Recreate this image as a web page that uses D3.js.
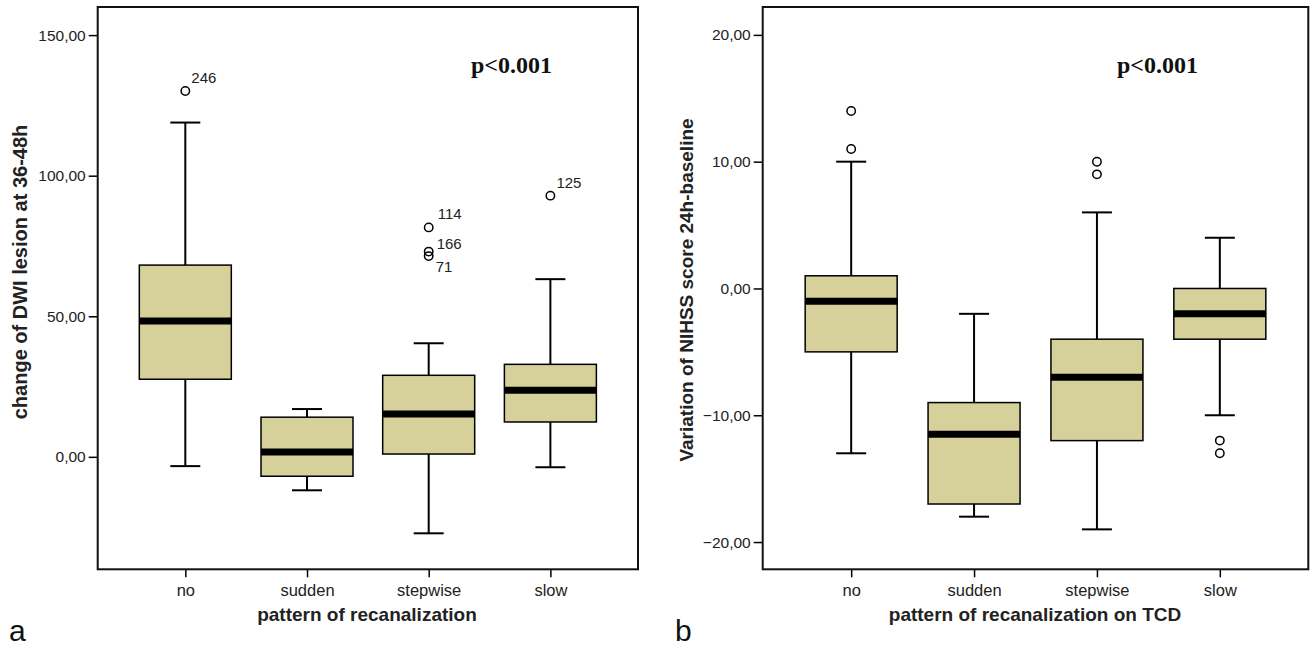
<!DOCTYPE html>
<html><head><meta charset="utf-8">
<script src="https://cdn.jsdelivr.net/npm/d3@7"></script>
<style>body{margin:0;background:#fff}svg{display:block}</style>
</head><body>
<svg id="c" width="1312" height="648"></svg>
<script>
const categories = ["no", "sudden", "stepwise", "slow"];

// Panel a: change of DWI lesion
const dwiLow    = [-3.3, -11.9, -27.2, -3.7];
const dwiQ1     = [27.6, -6.9, 1.0, 12.4];
const dwiMedian = [48.3, 1.7, 15.2, 23.7];
const dwiQ3     = [68.2, 14.1, 29.0, 32.9];
const dwiHigh   = [118.9, 17.0, 40.4, 63.2];
const dwiOutCat = ["no", "stepwise", "stepwise", "stepwise", "slow"];
const dwiOutVal = [130.1, 81.6, 73.0, 71.4, 92.9];
const dwiOutLab = ["246", "114", "166", "71", "125"];
const dwiTicks  = [0, 50, 100, 150];

// Panel b: variation of NIHSS
const nihLow    = [-13, -18, -19, -10];
const nihQ1     = [-5, -17, -12, -4];
const nihMedian = [-1, -11.5, -7, -2];
const nihQ3     = [1, -9, -4, 0];
const nihHigh   = [10, -2, 6, 4];
const nihOutCat = ["no", "no", "stepwise", "stepwise", "slow", "slow"];
const nihOutVal = [14, 11, 10, 9, -12, -13];
const nihOutLab = ["", "", "", "", "", ""];
const nihTicks  = [-20, -10, 0, 10, 20];

// label offsets (layout only)
const labOffset = {"246":[6,-8], "114":[9,-8], "166":[8,-3], "71":[7,16], "125":[6,-8]};

const svg = d3.select("#c");
const fmt = v => d3.format(".2f")(v).replace(".", ",");
const FILL = "#d6d09a";
const SANS = "Arial, 'Liberation Sans', sans-serif";

function panel(o) {
  const g = svg.append("g");
  const x = d3.scalePoint().domain(categories).range([o.x0, o.x1]).padding(0.72);
  const y = d3.scaleLinear().domain(o.domain).range([o.yb, o.yt]);

  // axes
  const ya = d3.axisLeft(y).tickValues(o.ticks).tickFormat(fmt).tickSize(9).tickPadding(3);
  const yg = g.append("g").attr("transform", `translate(${o.x0},0)`).call(ya);
  yg.select(".domain").remove();
  yg.selectAll("line").attr("stroke", "#000").attr("stroke-width", 1.5);
  yg.selectAll("text").attr("font-family", SANS).attr("font-size", 15.5).attr("fill", "#222");

  const xa = d3.axisBottom(x).tickSize(8).tickPadding(7);
  const xg = g.append("g").attr("transform", `translate(0,${o.yb})`).call(xa);
  xg.select(".domain").remove();
  xg.selectAll("line").attr("stroke", "#000").attr("stroke-width", 1.5);
  xg.selectAll("text").attr("font-family", SANS).attr("font-size", 16.5).attr("fill", "#222");

  // boxes
  const bw = 92, cw = 30;
  categories.forEach((c, i) => {
    const cx = x(c);
    g.append("line").attr("x1", cx).attr("x2", cx).attr("y1", y(o.high[i])).attr("y2", y(o.q3[i])).attr("stroke", "#000").attr("stroke-width", 2);
    g.append("line").attr("x1", cx).attr("x2", cx).attr("y1", y(o.q1[i])).attr("y2", y(o.low[i])).attr("stroke", "#000").attr("stroke-width", 2);
    g.append("line").attr("x1", cx - cw/2).attr("x2", cx + cw/2).attr("y1", y(o.high[i])).attr("y2", y(o.high[i])).attr("stroke", "#000").attr("stroke-width", 2);
    g.append("line").attr("x1", cx - cw/2).attr("x2", cx + cw/2).attr("y1", y(o.low[i])).attr("y2", y(o.low[i])).attr("stroke", "#000").attr("stroke-width", 2);
    g.append("rect").attr("x", cx - bw/2).attr("width", bw).attr("y", y(o.q3[i])).attr("height", y(o.q1[i]) - y(o.q3[i]))
      .attr("fill", FILL).attr("stroke", "#000").attr("stroke-width", 1.5);
    g.append("line").attr("x1", cx - bw/2).attr("x2", cx + bw/2).attr("y1", y(o.med[i])).attr("y2", y(o.med[i])).attr("stroke", "#000").attr("stroke-width", 7);
  });

  // outliers
  o.outCat.forEach((c, i) => {
    const cx = x(c), cy = y(o.outVal[i]);
    g.append("circle").attr("cx", cx).attr("cy", cy).attr("r", 4.2).attr("fill", "none").attr("stroke", "#000").attr("stroke-width", 1.5);
    const lab = o.outLab[i];
    if (lab) {
      const off = labOffset[lab];
      g.append("text").attr("x", cx + off[0]).attr("y", cy + off[1]).text(lab)
        .attr("font-family", SANS).attr("font-size", 15).attr("fill", "#222");
    }
  });

  // frame
  g.append("rect").attr("x", o.x0).attr("y", o.yt).attr("width", o.x1 - o.x0).attr("height", o.yb - o.yt)
    .attr("fill", "none").attr("stroke", "#111").attr("stroke-width", 2);

  // p-value
  g.append("text").attr("x", o.px).attr("y", 73).text("p<0.001")
    .attr("font-family", "'Liberation Serif', 'Times New Roman', serif").attr("font-weight", "bold").attr("font-size", 24).attr("fill", "#111");

  // titles
  g.append("text").attr("transform", `translate(${o.ytx},${o.yty}) rotate(-90)`).attr("text-anchor", "middle").text(o.ytitle)
    .attr("font-family", SANS).attr("font-weight", "bold").attr("font-size", o.ytsize).attr("fill", "#222");
  g.append("text").attr("x", o.xtx).attr("y", 621).attr("text-anchor", "middle").text(o.xtitle)
    .attr("font-family", SANS).attr("font-weight", "bold").attr("font-size", 19).attr("fill", "#222");
  g.append("text").attr("x", o.lx).attr("y", 641).text(o.letter)
    .attr("font-family", SANS).attr("font-size", 30).attr("fill", "#111");
}

panel({x0: 97.7, x1: 638, yt: 7, yb: 569.3, domain: [-40, 160], ticks: dwiTicks,
  low: dwiLow, q1: dwiQ1, med: dwiMedian, q3: dwiQ3, high: dwiHigh,
  outCat: dwiOutCat, outVal: dwiOutVal, outLab: dwiOutLab,
  px: 471, ytitle: "change of DWI lesion at 36-48h", ytsize: 20, ytx: 27, yty: 272,
  xtitle: "pattern of recanalization", xtx: 367, letter: "a", lx: 9});

panel({x0: 762.7, x1: 1308.3, yt: 7, yb: 569.3, domain: [-22.15, 22.2], ticks: nihTicks,
  low: nihLow, q1: nihQ1, med: nihMedian, q3: nihQ3, high: nihHigh,
  outCat: nihOutCat, outVal: nihOutVal, outLab: nihOutLab,
  px: 1117, ytitle: "Variation of NIHSS score 24h-baseline", ytsize: 19, ytx: 693, yty: 290,
  xtitle: "pattern of recanalization on TCD", xtx: 1035, letter: "b", lx: 675});
</script>
</body></html>
